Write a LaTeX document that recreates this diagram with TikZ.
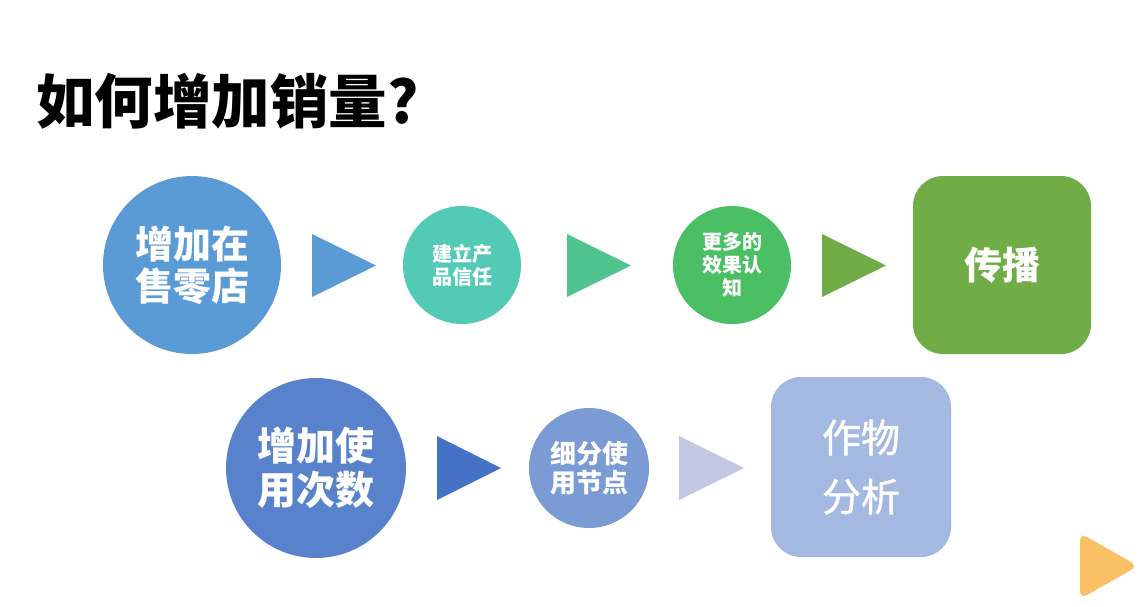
\documentclass[tikz,border=0pt]{standalone}
\usepackage{fontspec}
\setmainfont{Noto Sans CJK SC}
\newfontfamily\cjk{Noto Sans CJK SC}
\newfontfamily\cjkm[FakeBold=1.2]{Noto Sans CJK SC}
\usetikzlibrary{shapes.geometric}
\definecolor{cA}{HTML}{5B9BD5}
\definecolor{cB}{HTML}{53CAB6}
\definecolor{cBt}{HTML}{4FC48E}
\definecolor{cC}{HTML}{4ABF63}
\definecolor{cD}{HTML}{70AD47}
\definecolor{cE}{HTML}{5882CC}
\definecolor{cEt}{HTML}{4472C4}
\definecolor{cF}{HTML}{7B9BD5}
\definecolor{cFt}{HTML}{C0C8E4}
\definecolor{cG}{HTML}{A3B9E2}
\definecolor{cO}{HTML}{F9C065}
\tikzset{
  circ/.style={circle,inner sep=0pt,text=white,align=center,font=\cjk\bfseries},
  rbox/.style={rounded corners=30pt,inner sep=0pt,text=white,align=center},
}
\begin{document}
\begin{tikzpicture}[x=1pt,y=-1pt]
\useasboundingbox (0,0) rectangle (1148,606);
\fill[white] (0,0) rectangle (1148,606);
% title
\node[anchor=west,font=\cjk\bfseries\fontsize{58.5}{60}\selectfont,inner sep=0pt] (title) at (36,101) {如何增加销量?};
% row 1
\node[circ,fill=cA,minimum size=178pt,font=\cjk\bfseries\fontsize{38}{42}\selectfont] (n1) at (192,265) {增加在\\售零店};
\fill[cA] (312,234) -- (376,265.5) -- (312,297) -- cycle;
\node[circ,fill=cB,minimum size=118pt,font=\cjk\bfseries\fontsize{20}{23}\selectfont] (n2) at (462,265) {建立产\\品信任};
\fill[cBt] (567,234) -- (631,265.5) -- (567,297) -- cycle;
\node[circ,fill=cC,minimum size=118pt,font=\cjk\bfseries\fontsize{20}{23}\selectfont] (n3) at (732,265) {更多的\\效果认\\知};
\fill[cD] (822,234) -- (886,265.5) -- (822,297) -- cycle;
\node[rbox,fill=cD,minimum width=178pt,minimum height=178pt,font=\cjk\bfseries\fontsize{38}{42}\selectfont] (n4) at (1002,265) {传播};
% row 2
\node[circ,fill=cE,minimum size=180pt,font=\cjk\bfseries\fontsize{39}{44}\selectfont] (m1) at (316,468) {增加使\\用次数};
\fill[cEt] (437,436) -- (501,468) -- (437,500) -- cycle;
\node[circ,fill=cF,minimum size=120pt,font=\cjk\bfseries\fontsize{26}{29}\selectfont] (m2) at (589,468) {细分使\\用节点};
\fill[cFt] (679,436) -- (744,468) -- (679,500) -- cycle;
\node[rbox,fill=cG,minimum width=180pt,minimum height=180pt,font=\cjkm\fontsize{39}{59}\selectfont] (m3) at (861,467) {作物\\分析};
% orange corner triangle
\fill[cO,rounded corners=8pt] (1080,533) -- (1138,566) -- (1080,599) -- cycle;
\end{tikzpicture}
\end{document}
